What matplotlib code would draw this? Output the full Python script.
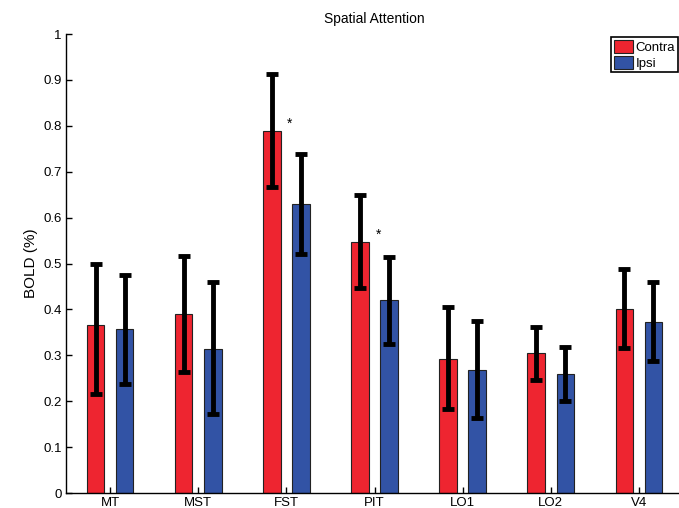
import numpy as np
import matplotlib
matplotlib.use("Agg")
from matplotlib import pyplot as plt

# Data
regions = ["MT", "MST", "FST", "PIT", "LO1", "LO2", "V4"]
contra = [0.366, 0.390, 0.789, 0.547, 0.293, 0.304, 0.401]
contra_hi = [0.499, 0.517, 0.913, 0.649, 0.405, 0.362, 0.488]
contra_lo = [0.216, 0.264, 0.667, 0.447, 0.183, 0.247, 0.315]
ipsi = [0.357, 0.314, 0.629, 0.420, 0.269, 0.259, 0.373]
ipsi_hi = [0.476, 0.459, 0.739, 0.515, 0.375, 0.319, 0.460]
ipsi_lo = [0.237, 0.172, 0.520, 0.325, 0.163, 0.201, 0.288]
significant = [False, False, True, True, False, False, False]

plt.rcParams["font.family"] = ["Liberation Sans", "DejaVu Sans"]

fig = plt.figure(figsize=(6.79, 5.08), dpi=100)
ax = fig.add_axes([66 / 679, 1 - 493 / 508, 617 / 679, 459 / 508])

x = np.arange(1, len(regions) + 1)
offset = 0.165
width = 0.2

err_c = [np.array(contra) - np.array(contra_lo), np.array(contra_hi) - np.array(contra)]
err_i = [np.array(ipsi) - np.array(ipsi_lo), np.array(ipsi_hi) - np.array(ipsi)]

ax.bar(x - offset, contra, width, color="#EE2530", edgecolor="#222222",
       linewidth=0.8, label="Contra", zorder=2)
ax.bar(x + offset, ipsi, width, color="#3253A5", edgecolor="#222222",
       linewidth=0.8, label="Ipsi", zorder=2)
ax.errorbar(x - offset, contra, yerr=err_c, fmt="none", ecolor="black",
            elinewidth=3.5, capsize=4.5, capthick=3.5, zorder=3)
ax.errorbar(x + offset, ipsi, yerr=err_i, fmt="none", ecolor="black",
            elinewidth=3.5, capsize=4.5, capthick=3.5, zorder=3)

# significance stars
for xi, v, s in zip(x, contra, significant):
    if s:
        ax.text(xi + 0.04, v + 0.015, "*", ha="center", va="center", fontsize=10)

ax.set_xlim(0.5, 7.5)
ax.set_ylim(0, 1)
ax.set_xticks(x)
ax.set_xticklabels(regions)
ax.set_yticks(np.arange(0, 1.01, 0.1))
ax.set_yticklabels(["0", "0.1", "0.2", "0.3", "0.4", "0.5", "0.6", "0.7", "0.8", "0.9", "1"])
ax.tick_params(direction="in", length=4, width=1, labelsize=9.5, pad=3)
ax.spines["top"].set_visible(False)
ax.spines["right"].set_visible(False)
ax.spines["left"].set_linewidth(1)
ax.spines["bottom"].set_linewidth(1)
ax.set_ylabel("BOLD (%)", fontsize=11)
ax.set_title("Spatial Attention", fontsize=10, pad=8)

leg = ax.legend(loc="upper left", bbox_to_anchor=(611 / 679, 1 - 37 / 508),
                bbox_transform=fig.transFigure, fontsize=9.5, fancybox=False,
                edgecolor="black", framealpha=1, borderpad=0.2, handlelength=1.5,
                handleheight=1.15, handletextpad=0.15, labelspacing=0.15,
                borderaxespad=0)
leg.get_frame().set_linewidth(1.2)

fig.savefig("out.png", dpi=100)
